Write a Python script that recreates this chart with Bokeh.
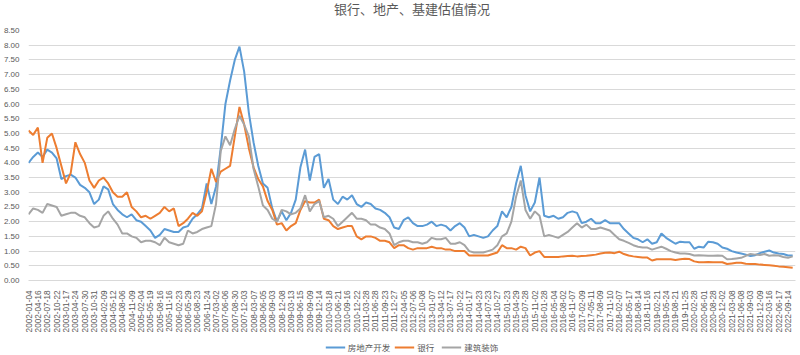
import numpy as np
from bokeh.plotting import figure
from bokeh.layouts import column
from bokeh.models import (FixedTicker, NumeralTickFormatter, Legend, LegendItem,
                          ColumnDataSource, Label, AllLabels)
from bokeh.embed import file_html
from bokeh.resources import INLINE

# ---- data -------------------------------------------------------------
tick_labels = [
    "2002-01-04", "2002-04-16", "2002-07-18", "2002-10-22", "2003-01-17", "2003-04-24",
    "2003-07-30", "2003-10-31", "2004-02-09", "2004-05-12", "2004-08-06", "2004-11-09",
    "2005-02-04", "2005-05-19", "2005-08-16", "2005-11-16", "2006-02-23", "2006-05-29",
    "2006-08-23", "2006-11-24", "2007-03-02", "2007-06-06", "2007-08-30", "2007-12-03",
    "2008-03-07", "2008-06-05", "2008-09-03", "2008-12-08", "2009-03-13", "2009-06-15",
    "2009-09-09", "2009-12-14", "2010-03-18", "2010-06-21", "2010-09-16", "2010-12-22",
    "2011-03-28", "2011-06-28", "2011-09-23", "2011-12-27", "2012-04-05", "2012-07-06",
    "2012-10-08", "2013-01-07", "2013-04-12", "2013-07-17", "2013-10-22", "2014-01-17",
    "2014-04-23", "2014-07-23", "2014-10-27", "2015-01-23", "2015-04-29", "2015-07-28",
    "2015-11-02", "2016-01-28", "2016-05-04", "2016-08-02", "2016-11-07", "2017-02-09",
    "2017-05-11", "2017-08-09", "2017-11-10", "2018-02-07", "2018-05-17", "2018-08-14",
    "2018-11-16", "2019-02-21", "2019-05-24", "2019-08-21", "2019-11-25", "2020-02-28",
    "2020-06-01", "2020-08-28", "2020-12-02", "2021-03-08", "2021-06-08", "2021-09-03",
    "2021-12-09", "2022-03-16", "2022-06-17", "2022-09-14",
]

# values sampled every half label interval (about one month of trading days)
real_estate = [  # 房地产开发
    4.0, 4.2, 4.35, 4.2, 4.45, 4.35, 4.15, 3.45, 3.55, 3.6, 3.5, 3.25, 3.15, 3.0, 2.6,
    2.75, 3.2, 3.1, 2.6, 2.4, 2.25, 2.15, 2.25, 2.05, 2.0, 1.85, 1.7, 1.45, 1.55,
    1.75, 1.7, 1.65, 1.65, 1.8, 1.85, 2.1, 2.25, 2.45, 3.3, 2.6, 3.2, 4.5, 6.0, 6.8,
    7.5, 7.95, 7.1, 5.7, 4.7, 3.9, 3.3, 3.15, 2.45, 2.0, 2.35, 2.05,
    2.3, 2.75, 3.85, 4.45, 3.4, 4.2, 4.3, 3.15, 3.45, 2.75, 2.6, 2.85, 2.75, 2.9, 2.6,
    2.5, 2.65, 2.6, 2.45, 2.4, 2.3, 2.15, 1.8, 1.75, 2.05, 2.15, 1.95,
    1.85, 1.85, 1.9, 2.0, 1.85, 1.9, 1.85, 1.7, 1.85, 1.95, 1.8, 1.5, 1.55, 1.5, 1.45,
    1.5, 1.7, 1.85, 2.35, 2.15, 2.5, 3.3, 3.9, 2.9, 2.35, 2.65, 3.5, 2.2,
    2.15, 2.2, 2.1, 2.15, 2.3, 2.35, 2.3, 1.95, 2.0, 2.1, 1.95, 1.95, 2.05, 1.95, 1.95,
    1.95, 1.75, 1.6, 1.45, 1.4, 1.3, 1.4, 1.25, 1.3, 1.6, 1.45, 1.35, 1.25,
    1.32, 1.3, 1.3, 1.08, 1.15, 1.12, 1.32, 1.3, 1.25, 1.12, 1.08, 1.0, 0.95, 0.92,
    0.88, 0.83, 0.86, 0.93, 0.98, 1.02, 0.95, 0.92, 0.9, 0.85, 0.85,
]
banks = [  # 银行
    5.1, 4.95, 5.2, 4.0, 4.85, 5.0, 4.5, 3.9, 3.3, 3.65, 4.7, 4.3, 4.0, 3.4, 3.15,
    3.4, 3.5, 3.3, 3.0, 2.85, 2.85, 3.0, 2.5, 2.35, 2.15, 2.2, 2.1, 2.2, 2.3,
    2.5, 2.35, 2.45, 1.85, 1.95, 2.1, 2.3, 2.2, 2.35, 3.0, 3.8, 3.35, 3.7, 3.8, 3.9,
    4.9, 5.9, 5.3, 4.5, 3.85, 3.45, 3.2, 2.7, 2.4, 1.9, 1.95, 1.7,
    1.85, 1.95, 2.4, 2.7, 2.65, 2.65, 2.75, 2.1, 2.05, 1.85, 1.75, 1.8, 1.85, 1.85, 1.5,
    1.4, 1.5, 1.5, 1.45, 1.35, 1.35, 1.3, 1.1, 1.2, 1.2, 1.1, 1.05,
    1.1, 1.1, 1.1, 1.15, 1.1, 1.1, 1.05, 1.05, 1.0, 1.0, 1.0, 0.85, 0.85, 0.85, 0.85,
    0.85, 0.9, 0.95, 1.2, 1.1, 1.1, 1.05, 1.15, 1.1, 0.85, 0.95, 1.0, 0.8,
    0.8, 0.8, 0.8, 0.82, 0.83, 0.84, 0.82, 0.83, 0.84, 0.86, 0.88, 0.92, 0.94, 0.95, 0.93,
    0.98, 0.9, 0.85, 0.82, 0.8, 0.78, 0.78, 0.68, 0.72, 0.72, 0.72, 0.72, 0.7,
    0.72, 0.74, 0.73, 0.65, 0.62, 0.62, 0.63, 0.62, 0.62, 0.62, 0.56, 0.58, 0.6, 0.6,
    0.57, 0.56, 0.56, 0.54, 0.53, 0.52, 0.5, 0.48, 0.47, 0.45, 0.43,
]
construction = [  # 建筑装饰
    2.25, 2.45, 2.4, 2.3, 2.6, 2.55, 2.5, 2.2, 2.25, 2.3, 2.3, 2.2, 2.15, 1.95, 1.8,
    1.85, 2.2, 2.35, 2.1, 1.9, 1.6, 1.6, 1.5, 1.45, 1.3, 1.35, 1.35, 1.3, 1.2,
    1.45, 1.3, 1.25, 1.2, 1.25, 1.7, 1.6, 1.65, 1.75, 1.8, 1.85, 2.6, 4.4, 4.9, 4.6,
    5.15, 5.6, 5.3, 4.9, 3.8, 3.2, 2.55, 2.4, 2.1, 2.0, 2.4, 2.35,
    2.25, 2.3, 2.45, 2.9, 2.35, 2.6, 2.7, 2.15, 2.2, 2.1, 1.85, 2.0, 2.15, 2.3, 2.1,
    2.1, 2.05, 1.9, 1.9, 1.8, 1.75, 1.6, 1.2, 1.3, 1.35, 1.35, 1.3,
    1.3, 1.25, 1.3, 1.45, 1.4, 1.4, 1.45, 1.25, 1.25, 1.3, 1.2, 1.0, 0.95, 0.95, 0.95,
    1.0, 1.05, 1.2, 1.5, 1.6, 2.0, 2.85, 3.4, 2.4, 2.1, 2.35, 2.2, 1.5,
    1.55, 1.5, 1.45, 1.55, 1.65, 1.8, 1.95, 1.8, 1.9, 1.75, 1.75, 1.8, 1.75, 1.7, 1.55,
    1.4, 1.35, 1.28, 1.2, 1.15, 1.12, 1.12, 1.05, 1.1, 1.15, 1.08, 1.0, 0.95,
    0.92, 0.92, 0.9, 0.85, 0.86, 0.85, 0.84, 0.84, 0.85, 0.84, 0.72, 0.73, 0.75, 0.77,
    0.84, 0.9, 0.88, 0.87, 0.9, 0.84, 0.86, 0.85, 0.8, 0.77, 0.82,
]
series_names = ["房地产开发", "银行", "建筑装饰"]
title_text = "银行、地产、基建估值情况"

# x position of each sample, in units of the category-label interval
x = np.arange(len(real_estate)) * 0.5

src = ColumnDataSource(dict(x=x, re=real_estate, bk=banks, cs=construction))

# ---- styling ----------------------------------------------------------
TXT = "#595959"
FONT = "Noto Sans CJK SC"
colors = ["#5B9BD5", "#ED7D31", "#A5A5A5"]

# ---- title strip --------------------------------------------------------
tf = figure(width=800, height=24, output_backend="svg", toolbar_location=None,
            x_range=(0, 1), y_range=(0, 1), min_border=0)
tf.axis.visible = False
tf.grid.grid_line_color = None
tf.outline_line_color = None
tf.add_layout(Label(x=0.5, y=0.66, text=title_text, text_align="center", text_baseline="middle",
                    text_font=FONT, text_font_size="13px", text_color=TXT))

# ---- main chart -------------------------------------------------------
p = figure(width=800, height=314, output_backend="svg", toolbar_location=None,
           x_range=(0, 81.8), y_range=(0, 8.5),
           min_border_left=25, min_border_right=5, min_border_top=6, min_border_bottom=58)
p.outline_line_color = None

for col, c in zip(["re", "bk", "cs"], colors):
    p.line("x", col, source=src, line_color=c, line_width=2)

# y axis
p.yaxis.ticker = FixedTicker(ticks=list(np.arange(0, 8.51, 0.5)))
p.yaxis.formatter = NumeralTickFormatter(format="0.00")
p.yaxis.axis_line_color = None
p.yaxis.major_tick_line_color = None
p.yaxis.minor_tick_line_color = None
p.yaxis.major_label_text_font_size = "8px"
p.yaxis.major_label_text_color = TXT
p.yaxis.major_label_text_font = "Liberation Sans"
p.yaxis.major_label_standoff = 3

# x axis
p.xaxis.ticker = FixedTicker(ticks=list(range(len(tick_labels))))
p.xaxis.major_label_overrides = {i: t for i, t in enumerate(tick_labels)}
p.xaxis.major_label_orientation = np.pi / 2
p.xaxis.major_label_policy = AllLabels()
p.xaxis.axis_line_color = "#D9D9D9"
p.xaxis.major_tick_line_color = None
p.xaxis.minor_tick_line_color = None
p.xaxis.major_label_text_font_size = "8.2px"
p.xaxis.major_label_text_color = TXT
p.xaxis.major_label_text_font = "Liberation Sans"
p.xaxis.major_label_standoff = 4

p.xgrid.grid_line_color = None
p.ygrid.grid_line_color = "#D9D9D9"
p.ygrid.grid_line_width = 1

# ---- legend strip (separate small figure under the chart) -------------
lg = figure(width=800, height=17, output_backend="svg", toolbar_location=None,
            x_range=(0, 1), y_range=(0, 1), min_border=0)
lg.axis.visible = False
lg.grid.grid_line_color = None
lg.outline_line_color = None
lg_renderers = [lg.line(x=[np.nan], y=[np.nan], line_color=c, line_width=2) for c in colors]
legend = Legend(items=[LegendItem(label=n, renderers=[r]) for n, r in zip(series_names, lg_renderers)],
                orientation="horizontal", location="center",
                glyph_width=20, glyph_height=8, label_height=8, label_standoff=3, spacing=4,
                padding=0, margin=0, border_line_color=None, background_fill_alpha=0,
                label_text_font=FONT, label_text_font_size="8.5px", label_text_color=TXT)
lg.add_layout(legend, "center")

layout = column(tf, p, lg, spacing=0)
open("out.html", "w").write(file_html(layout, INLINE))
